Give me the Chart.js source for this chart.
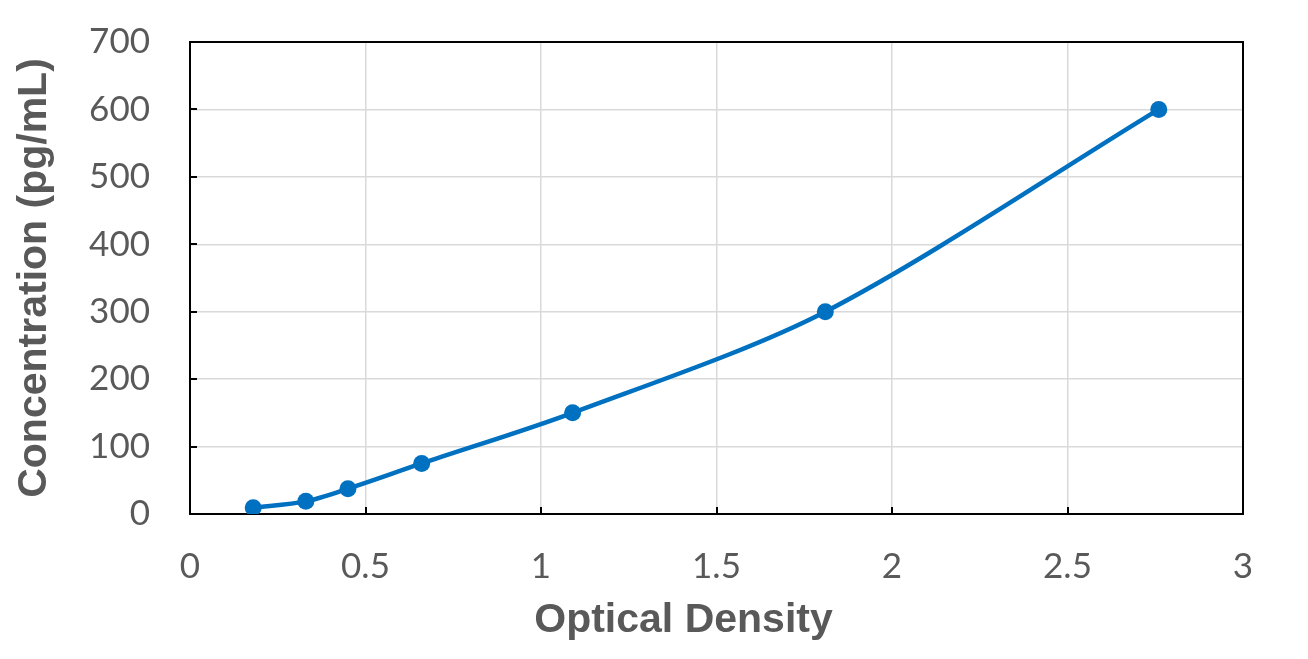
<!DOCTYPE html>
<html>
<head>
<meta charset="utf-8">
<script src="https://cdn.jsdelivr.net/npm/chart.js@4/dist/chart.umd.min.js"></script>
<style>
  html, body { margin: 0; padding: 0; background: #fff; }
  #wrap { width: 1308px; height: 659px; }
</style>
</head>
<body>
<div id="wrap"><canvas id="stdCurve" width="1308" height="659"></canvas></div>
<script>
// Standard curve data
const opticalDensity = [0.18, 0.33, 0.45, 0.66, 1.09, 1.81, 2.76];
const concentration = [9.375, 18.75, 37.5, 75, 150, 300, 600];

// Axis ticks
const xTicks = [0, 0.5, 1, 1.5, 2, 2.5, 3];
const yTicks = [0, 100, 200, 300, 400, 500, 600, 700];

const xTitle = 'Optical Density';
const yTitle = 'Concentration (pg/mL)';

const textColor = '#595959';
const lineColor = '#0070C0';
const titleFont = '"Liberation Sans", Arial, sans-serif';

// Black frame around the plot area plus short inward tick marks
const framePlugin = {
  id: 'frame',
  beforeDatasetsDraw(chart) {
    const { ctx, chartArea: a, scales } = chart;
    ctx.save();
    ctx.strokeStyle = '#000';
    ctx.lineWidth = 2;
    ctx.strokeRect(a.left, a.top, a.right - a.left, a.bottom - a.top);

    ctx.beginPath();
    scales.y.ticks.forEach(t => {
      const py = Math.round(scales.y.getPixelForValue(t.value));
      ctx.moveTo(a.left, py);
      ctx.lineTo(a.left + 7, py);
    });
    scales.x.ticks.forEach(t => {
      const px = Math.round(scales.x.getPixelForValue(t.value));
      ctx.moveTo(px, a.bottom);
      ctx.lineTo(px, a.bottom - 7);
    });
    ctx.stroke();
    ctx.restore();
  },
  // The x title sits a little left of the plot centre, as in the original
  afterDraw(chart) {
    const { ctx, chartArea: a } = chart;
    ctx.save();
    ctx.fillStyle = textColor;
    ctx.font = 'bold 41px ' + titleFont;
    ctx.textAlign = 'center';
    ctx.textBaseline = 'alphabetic';
    ctx.fillText(xTitle, (a.left + a.right) / 2 - 33, 632);
    ctx.restore();
  }
};

const points = opticalDensity.map((x, i) => ({ x: x, y: concentration[i] }));

new Chart(document.getElementById('stdCurve'), {
  type: 'scatter',
  data: {
    datasets: [{
      data: points,
      showLine: true,
      borderColor: lineColor,
      backgroundColor: lineColor,
      borderWidth: 4.5,
      pointRadius: 8.5,
      pointBorderWidth: 0,
      tension: 0.3
    }]
  },
  options: {
    responsive: false,
    animation: false,
    layout: { padding: { top: 42, right: 65, left: 0, bottom: 0 } },
    plugins: {
      legend: { display: false },
      tooltip: { enabled: false }
    },
    scales: {
      x: {
        type: 'linear',
        min: 0,
        max: 3,
        afterBuildTicks: s => { s.ticks = xTicks.map(v => ({ value: v })); },
        afterFit: s => { s.height = 659 - 514; s.paddingLeft = 0; s.paddingRight = 0; },
        grid: { color: '#d9d9d9', lineWidth: 1.5, drawTicks: false },
        border: { color: '#000', width: 2 },
        ticks: {
          color: textColor,
          padding: 32,
          maxRotation: 0,
          font: { family: 'Lato', size: 35 },
          callback: v => String(v)
        },
        title: { display: false }
      },
      y: {
        type: 'linear',
        min: 0,
        max: 700,
        afterBuildTicks: s => { s.ticks = yTicks.map(v => ({ value: v })); },
        afterFit: s => { s.width = 190; s.paddingTop = 0; s.paddingBottom = 0; },
        grid: { color: '#d9d9d9', lineWidth: 1.5, drawTicks: false },
        border: { color: '#000', width: 2 },
        ticks: {
          color: textColor,
          padding: 40,
          font: { family: 'Lato', size: 35 },
          callback: v => String(v)
        },
        title: {
          display: true,
          text: yTitle,
          color: textColor,
          font: { family: titleFont, size: 41, weight: 'bold' },
          padding: { top: 10, bottom: 0 }
        }
      }
    }
  },
  plugins: [framePlugin]
});
</script>
</body>
</html>
